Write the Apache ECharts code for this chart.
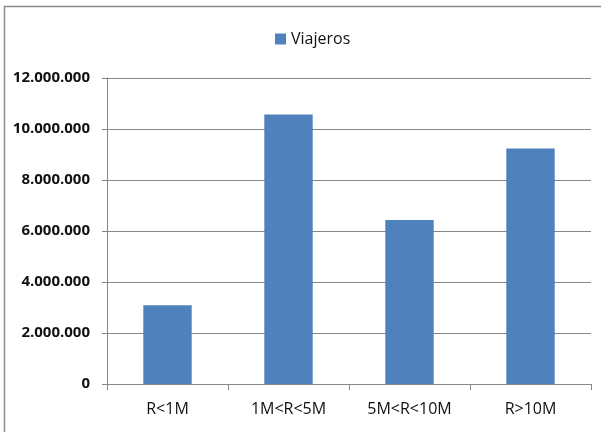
<!DOCTYPE html>
<html>
<head>
<meta charset="utf-8">
<script src="https://cdn.jsdelivr.net/npm/echarts@6/dist/echarts.min.js"></script>
<style>
  html, body { margin: 0; padding: 0; background: #fff; }
  #main { width: 601px; height: 432px; }
</style>
</head>
<body>
<div id="main"></div>
<script>
// datos
var categorias = ['R<1M', '1M<R<5M', '5M<R<10M', 'R>10M'];
var viajeros = [3090000, 10570000, 6430000, 9240000];
var serieNombre = 'Viajeros';

var chart = echarts.init(document.getElementById('main'));

// formato 12.000.000
function fmt(v) {
    return String(v).replace(/\B(?=(\d{3})+(?!\d))/g, '.');
}

var option = {
    animation: false,
    textStyle: {
        fontFamily: 'Open Sans'
    },
    graphic: [{
        type: 'rect',
        shape: { x: 4.5, y: 6.5, width: 620, height: 450 },
        style: { fill: null, stroke: '#8c8c8c', lineWidth: 1.5 }
    }],
    legend: {
        data: [{ name: serieNombre, icon: 'rect' }],
        top: 26,
        left: 270,
        itemWidth: 11,
        itemHeight: 11,
        itemGap: 5,
        textStyle: {
            color: '#111',
            fontSize: 16,
            fontFamily: 'Open Sans'
        }
    },
    grid: {
        left: 107,
        right: 10,
        top: 78,
        bottom: 48
    },
    xAxis: {
        type: 'category',
        data: categorias,
        axisLine: {
            lineStyle: { color: '#868686', width: 1 }
        },
        axisTick: {
            show: true,
            length: 6,
            lineStyle: { color: '#868686' }
        },
        axisLabel: {
            color: '#111',
            fontSize: 16,
            margin: 17
        }
    },
    yAxis: {
        type: 'value',
        min: 0,
        max: 12000000,
        interval: 2000000,
        axisLine: {
            show: true,
            lineStyle: { color: '#868686', width: 1 }
        },
        axisTick: {
            show: true,
            length: 5,
            lineStyle: { color: '#868686' }
        },
        splitLine: {
            lineStyle: { color: '#868686', width: 1 }
        },
        axisLabel: {
            color: '#111',
            fontSize: 15,
            fontWeight: 'bold',
            margin: 17,
            formatter: fmt
        }
    },
    series: [{
        name: serieNombre,
        type: 'bar',
        data: viajeros,
        barWidth: '40%',
        itemStyle: {
            color: '#4f81bd'
        }
    }]
};
chart.setOption(option);
</script>
</body>
</html>
